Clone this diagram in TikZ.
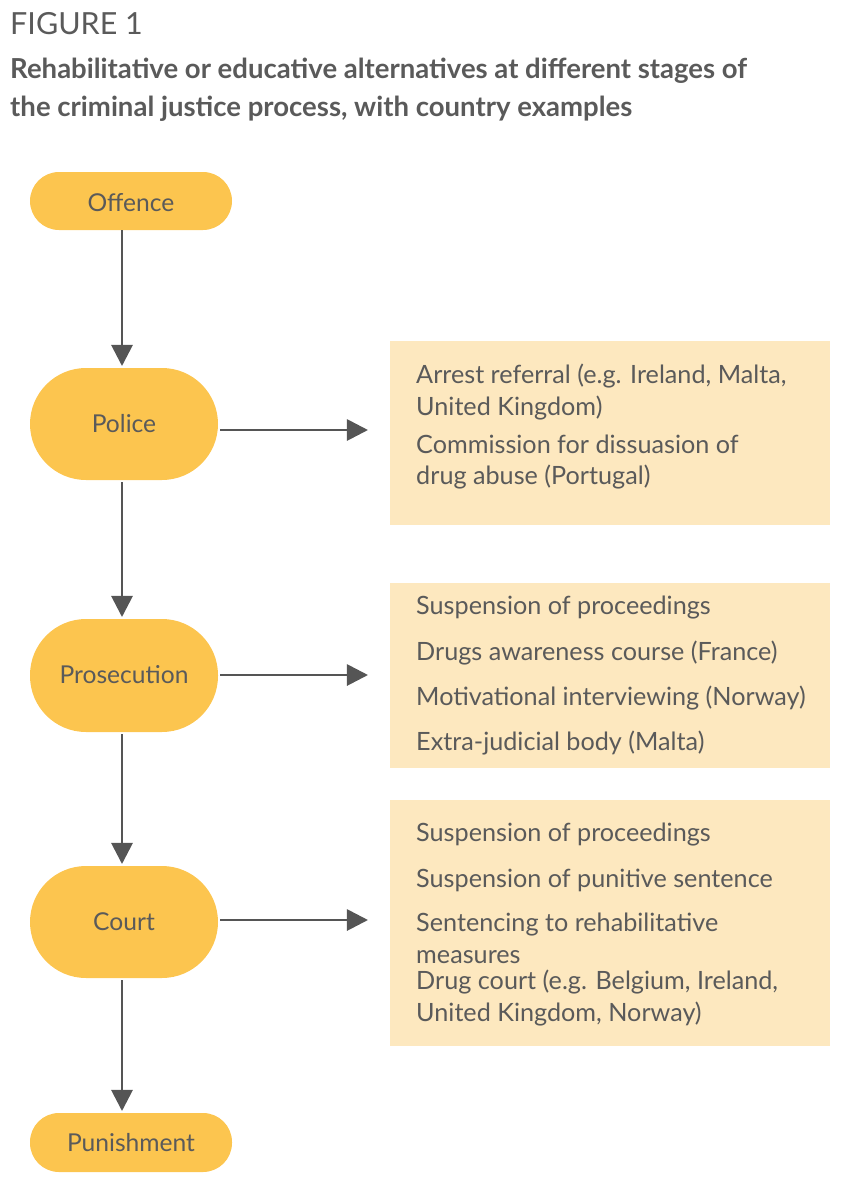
\documentclass[tikz,border=0pt]{standalone}
\usepackage{fontspec}
\setmainfont{Lato}
\usetikzlibrary{arrows.meta}
\definecolor{stage}{HTML}{FCC54F}
\definecolor{pale}{HTML}{FDE8BF}
\definecolor{ink}{HTML}{5A5A5A}
\definecolor{arr}{HTML}{555555}
\begin{document}
\begin{tikzpicture}[x=0.03cm,y=-0.03cm,
  pill/.style={fill=stage,rounded corners=#1},
  lbl/.style={text=ink,font=\fontsize{21}{25}\selectfont},
  box/.style={fill=pale,anchor=north west,inner sep=0pt},
  item/.style={anchor=west,text=ink,inner sep=0pt,align=left,font=\fontsize{21.5}{27}\selectfont},
  link/.style={draw=arr,line width=2.4pt,-{Stealth[length=18pt,width=18pt,inset=0pt]}}]
\useasboundingbox (0,0) rectangle (856,1200);
\node[anchor=west,inner sep=0pt,text=ink,font=\fontsize{26}{30}\selectfont] (fig) at (10,24) {FIGURE 1};
\node[anchor=north west,inner sep=0pt,text=ink,align=left,font=\fontsize{23.5}{32.5}\selectfont\bfseries] (title) at (10,58)
 {Rehabilitative or educative alternatives at different stages of\\the criminal justice process, with country examples};
% stages
\path[pill=0.87cm] (30,172) rectangle (232,230);
\node (off) at (131,201) [minimum width=6cm,minimum height=1.74cm] {};
\node[lbl] at (131,203) {Offence};
\path[pill=1.68cm] (30,368) rectangle (218,480);
\node (pol) at (124,424) [minimum width=5.64cm,minimum height=3.36cm] {};
\node[lbl] at (124,424) {Police};
\path[pill=1.68cm] (30,619) rectangle (218,732);
\node (pro) at (124,675) [minimum width=5.64cm,minimum height=3.39cm] {};
\node[lbl] at (124,675) {Prosecution};
\path[pill=1.68cm] (30,866) rectangle (218,978);
\node (crt) at (124,922) [minimum width=5.64cm,minimum height=3.36cm] {};
\node[lbl] at (124,922) {Court};
\path[pill=0.87cm] (30,1113) rectangle (232,1172);
\node (pun) at (131,1142) [minimum width=6cm,minimum height=1.77cm] {};
\node[lbl] at (131,1143) {Punishment};
% boxes
\node[box,minimum width=13.2cm,minimum height=5.52cm] (b1) at (390,341) {};
\node[box,minimum width=13.2cm,minimum height=5.55cm] (b2) at (390,583) {};
\node[box,minimum width=13.2cm,minimum height=7.38cm] (b3) at (390,800) {};
\node[item] at (416,392) {Arrest referral (e.g. Ireland, Malta,\\United Kingdom)};
\node[item] at (416,462) {Commission for dissuasion of\\drug abuse (Portugal)};
\node[item] at (416,608) {Suspension of proceedings};
\node[item] at (416,653) {Drugs awareness course (France)};
\node[item] at (416,698) {Motivational interviewing (Norway)};
\node[item] at (416,743) {Extra-judicial body (Malta)};
\node[item] at (416,835) {Suspension of proceedings};
\node[item] at (416,880) {Suspension of punitive sentence};
\node[item] at (416,938) {Sentencing to rehabilitative\\measures};
\node[item] at (416,998) {Drug court (e.g. Belgium, Ireland,\\United Kingdom, Norway)};
% connectors
\draw[link] (122,230) -- (122,366);
\draw[link] (122,482) -- (122,617);
\draw[link] (122,734) -- (122,864);
\draw[link] (122,980) -- (122,1111);
\draw[link] (pol.east) ++(2,6) coordinate (p1) (p1) -- (368,430);
\draw[link] (pro.east) ++(2,0) -- (368,675);
\draw[link] (crt.east) ++(2,-2) -- (368,920);
\end{tikzpicture}
\end{document}
